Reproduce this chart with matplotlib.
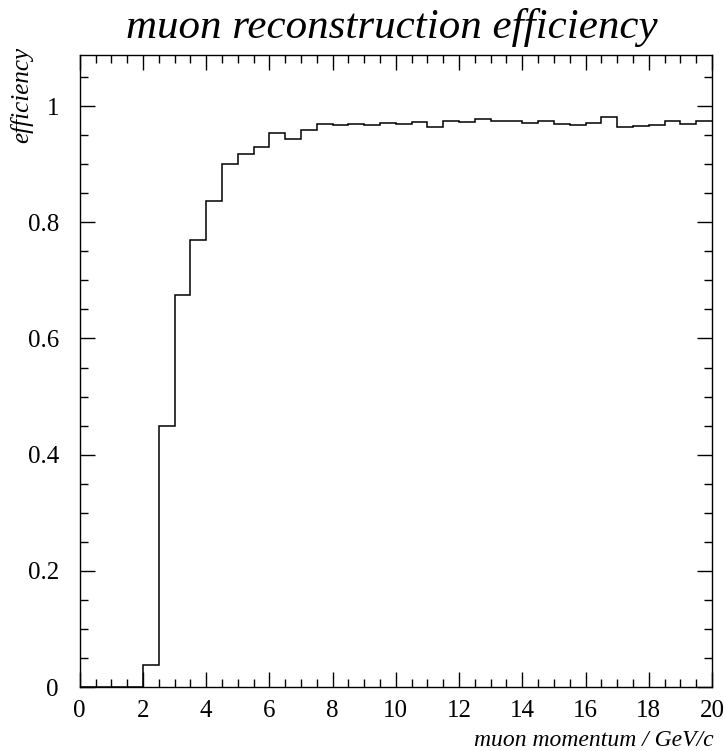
import numpy as np
import matplotlib
matplotlib.use("Agg")
import matplotlib.pyplot as plt
from matplotlib.ticker import MultipleLocator

plt.rcParams['font.family'] = ['Liberation Serif', 'DejaVu Serif']

# bin edges of the momentum histogram (GeV/c)
edges = np.arange(0, 20.5, 0.5)
# efficiency per bin
efficiency = [0, 0, 0, 0,
              0.038, 0.449, 0.675, 0.769, 0.836, 0.901, 0.917, 0.929,
              0.953, 0.944, 0.958, 0.970, 0.968, 0.970, 0.967, 0.971,
              0.969, 0.972, 0.964, 0.974, 0.973, 0.977, 0.974, 0.974,
              0.971, 0.975, 0.970, 0.967, 0.971, 0.981, 0.964, 0.966,
              0.968, 0.975, 0.970, 0.975]

fig = plt.figure(figsize=(7.25, 7.51), dpi=100)
ax = fig.add_axes([0.110, 0.0852, 0.872, 0.8416])

ax.stairs(efficiency, edges, baseline=None, color='black', linewidth=1.1)

ax.set_xlim(0, 20)
ax.set_ylim(0, 1.088)
ax.xaxis.set_major_locator(MultipleLocator(2))
ax.xaxis.set_minor_locator(MultipleLocator(0.5))
ax.yaxis.set_minor_locator(MultipleLocator(0.05))
ax.set_yticks([0, 0.2, 0.4, 0.6, 0.8, 1.0])
ax.set_yticklabels(['0', '0.2', '0.4', '0.6', '0.8', '1'])

ax.tick_params(which='both', direction='in', top=True, right=True,
               labelsize=18, width=1)
ax.tick_params(which='major', length=11)
ax.tick_params(which='minor', length=6)
ax.tick_params(axis='x', pad=9)
ax.tick_params(axis='y', pad=15)
for s in ax.spines.values():
    s.set_linewidth(1.0)

fig.text(0.541, 0.949, 'muon reconstruction efficiency', fontsize=31,
         style='italic', ha='center', va='baseline')
fig.text(0.984, 0.006, 'muon momentum / GeV/c', fontsize=17,
         style='italic', ha='right', va='baseline')
fig.text(0.030, 0.937, 'efficiency', fontsize=18, style='italic',
         rotation=90, ha='center', va='top')

fig.savefig('out.png', dpi=100)
